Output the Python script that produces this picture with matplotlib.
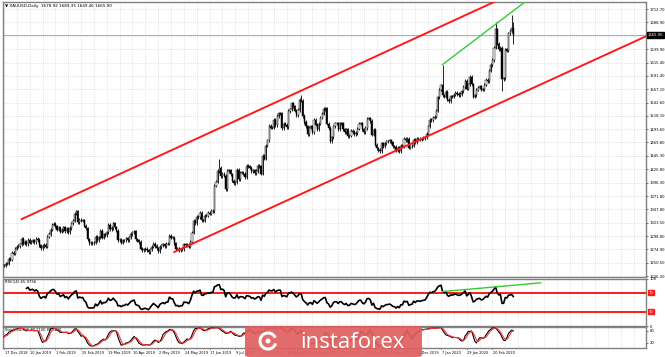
import numpy as np
import pandas as pd
import matplotlib
matplotlib.use("Agg")
import matplotlib.pyplot as plt
from matplotlib.patches import FancyBboxPatch, Ellipse, Arc

# ---------------- data ----------------
holidays = ["2018-12-25", "2019-01-01", "2019-12-25", "2020-01-01"]

# daily closes XAUUSD, 17 Dec 2018 .. 10 Mar 2020
closes = [
    # Dec 2018
    1245, 1249, 1249, 1258, 1256, 1268, 1267, 1276, 1280, 1281,
    # Jan 2019
    1284, 1294, 1285, 1289, 1284, 1292, 1287, 1289, 1291, 1288, 1294,
    1292, 1282, 1277, 1281, 1283, 1280, 1298, 1303, 1311, 1320, 1321,
    # Feb 2019
    1317, 1311, 1314, 1307, 1310, 1315, 1308, 1312, 1306, 1314,
    1322, 1327, 1340, 1344, 1324, 1329, 1327, 1328, 1318, 1313,
    # Mar 2019
    1293, 1286, 1287, 1286, 1287, 1298, 1291, 1297, 1309, 1296, 1302,
    1301, 1306, 1320, 1312, 1314, 1322, 1315, 1309, 1291, 1292,
    # Apr 2019
    1287, 1291, 1291, 1295, 1292, 1297, 1303, 1306, 1308, 1293, 1291,
    1288, 1276, 1273, 1275, 1276, 1273, 1270, 1275, 1280, 1285, 1281,
    # May 2019
    1277, 1271, 1279, 1282, 1284, 1281, 1285, 1285, 1300, 1296, 1296, 1286,
    1276, 1277, 1273, 1275, 1275, 1284, 1283, 1283, 1280, 1288, 1305,
    # Jun 2019
    1327, 1323, 1334, 1334, 1341, 1328, 1327, 1336, 1336, 1341,
    1340, 1345, 1345, 1391, 1398, 1418, 1423, 1408, 1413, 1409,
    # Jul 2019
    1385, 1418, 1419, 1412, 1400, 1395, 1397, 1420, 1403, 1415, 1415, 1413,
    1406, 1427, 1426, 1424, 1417, 1419, 1414, 1418, 1427, 1426, 1413,
    # Aug 2019
    1445, 1440, 1464, 1474, 1500, 1497, 1497, 1511, 1501, 1518, 1523,
    1523, 1496, 1504, 1502, 1498, 1527, 1530, 1541, 1536, 1528, 1520,
    # Sep 2019
    1529, 1547, 1546, 1518, 1507, 1499, 1485, 1497, 1499, 1488, 1511,
    1502, 1494, 1504, 1515, 1522, 1531, 1532, 1504, 1496, 1472,
    # Oct 2019
    1479, 1499, 1505, 1505, 1494, 1505, 1505, 1494, 1488, 1494, 1481, 1482,
    1491, 1489, 1485, 1487, 1495, 1504, 1505, 1494, 1489, 1496, 1513,
    # Nov 2019
    1514, 1509, 1484, 1493, 1466, 1459, 1456, 1454, 1468, 1463, 1468,
    1472, 1472, 1474, 1470, 1463, 1462, 1455, 1460, 1454, 1464,
    # Dec 2019
    1463, 1477, 1474, 1476, 1460, 1463, 1464, 1475, 1470, 1476, 1476,
    1475, 1477, 1478, 1479, 1486, 1499, 1511, 1510, 1515, 1517,
    # Jan 2020
    1528, 1552, 1566, 1574, 1556, 1553, 1562, 1548, 1545, 1554, 1553,
    1557, 1560, 1558, 1556, 1558, 1563, 1571, 1582, 1568, 1576, 1589,
    # Feb 2020
    1576, 1553, 1556, 1566, 1570, 1572, 1566, 1567, 1575, 1584,
    1581, 1601, 1611, 1620, 1643, 1676, 1650, 1640, 1643, 1585,
    # Mar 2020
    1587, 1640, 1637, 1669, 1673, 1679, 1665.9,
]
spike_high = {"2019-06-25": 1439, "2019-09-04": 1557, "2020-01-08": 1611,
              "2020-02-24": 1689, "2020-03-09": 1703, "2020-03-10": 1689.35}
spike_low = {"2020-02-28": 1563, "2020-03-10": 1649.46}

price_ticks = [1226.20, 1250.50, 1274.90, 1298.80, 1323.50, 1347.80, 1371.80,
               1396.30, 1420.80, 1445.30, 1469.80, 1493.60, 1518.10, 1542.60,
               1567.10, 1591.40, 1615.40, 1639.90, 1688.90, 1712.70]
hidden_grid = [1664.30]  # level covered by the current-price box

# trend lines (bar index, price)
upper_channel = ([11, 308], [1330, 1730])
lower_channel = ([106, 400], [1270, 1664])
green_price = ([273, 326], [1612, 1730])
rsi_levels = [70, 30]

title = "\u25bc XAUUSD,Daily  1678.92 1689.35 1649.46 1665.90"
rsi_title = "RSI(14) 65.9756"
stoch_title = "Stoch(14,3,3) 80.1100 80.3246"

# ---------------- prepare ----------------
dates = pd.bdate_range("2018-12-17", "2020-03-10")
dates = dates[~dates.isin(pd.to_datetime(holidays))]
n = min(len(dates), len(closes))
dates = dates[:n]
c = np.array(closes[:n], dtype=float)
o = np.r_[c[0], c[:-1]]
wick = 3.0
hi = np.maximum(o, c) + wick
lo = np.minimum(o, c) - wick
for d, v in spike_high.items():
    hi[dates.get_loc(pd.Timestamp(d))] = v
for d, v in spike_low.items():
    lo[dates.get_loc(pd.Timestamp(d))] = v
x = np.arange(n)

s = pd.Series(c)
diff = s.diff()
gain = diff.clip(lower=0).ewm(alpha=1 / 14, adjust=False, min_periods=14).mean()
loss = (-diff.clip(upper=0)).ewm(alpha=1 / 14, adjust=False, min_periods=14).mean()
rsi = 100 - 100 / (1 + gain / loss)

ll = pd.Series(lo).rolling(14, min_periods=1).min()
hh = pd.Series(hi).rolling(14, min_periods=1).max()
k = (100 * (s - ll) / (hh - ll)).rolling(3, min_periods=1).mean()
dd = k.rolling(3, min_periods=1).mean()

# ---------------- figure ----------------
W, H = 665, 357
fig = plt.figure(figsize=(W / 100, H / 100), dpi=100)


def px_axes(x0, y0, x1, y1):
    return fig.add_axes([x0 / W, 1 - y1 / H, (x1 - x0) / W, (y1 - y0) / H])


ax = px_axes(3, 2, 646, 277)
ax_rsi = px_axes(3, 278.5, 646, 326)
ax_st = px_axes(3, 327, 646, 348)

XMIN, XMAX = -0.6, 399.6
grid_kw = dict(color="#c8c8c8", lw=0.5, ls=(0, (1, 2)), zorder=0)
for a in (ax, ax_rsi, ax_st):
    a.set_xlim(XMIN, XMAX)
    for gx in range(0, 400, 8):
        a.axvline(gx, **grid_kw)
    for sp in a.spines.values():
        sp.set_color("#808080")
        sp.set_linewidth(1.0)
    a.yaxis.tick_right()
    a.tick_params(axis="y", labelsize=2.7, length=1.5, width=0.4, pad=1, colors="black")
    a.tick_params(axis="x", length=0, labelbottom=False)

# main price panel
YLO, YHI = 1224.4, 1726
ax.set_ylim(YLO, YHI)
ax.set_yticks(price_ticks)
ax.set_yticklabels([f"{p:.2f}" for p in price_ticks])
for p in price_ticks + hidden_grid:
    ax.axhline(p, **grid_kw)
ax.vlines(x, lo, hi, color="black", lw=0.6, zorder=3)
up = c >= o
ax.bar(x, np.maximum(np.abs(c - o), 0.5), bottom=np.minimum(o, c), width=0.7,
       color=np.where(up, "white", "black"), edgecolor="black", lw=0.35, zorder=4)
ax.axhline(c[-1], color="#a0a0a0", lw=0.6, zorder=2)

ax.plot(*upper_channel, color="#ff1a1a", lw=1.4, zorder=5)
ax.plot(*lower_channel, color="#ff1a1a", lw=1.4, zorder=5)
ax.plot(*green_price, color="#33cc33", lw=1.0, zorder=5)

ax.text(0.003, 0.993, title, transform=ax.transAxes, va="top", ha="left", fontsize=3.0)
ax.text(1.003, (c[-1] - YLO) / (YHI - YLO), f"{c[-1]:.2f}", transform=ax.transAxes,
        va="center", ha="left", fontsize=2.7, color="white",
        bbox=dict(boxstyle="square,pad=0.2", fc="black", ec="black"), clip_on=False, zorder=10)

# RSI panel
ax_rsi.set_ylim(0, 100)
ax_rsi.set_yticks([100, 0])
ax_rsi.set_yticklabels(["100", "0"])
ax_rsi.plot(x, rsi, color="black", lw=1.2, zorder=4)
for lvl in rsi_levels:
    ax_rsi.axhline(lvl, color="#ff1a1a", lw=1.4, zorder=3)
    ax_rsi.text(1.004, lvl / 100, str(lvl), transform=ax_rsi.transAxes, va="center", ha="left",
                fontsize=2.6, color="white", clip_on=False,
                bbox=dict(boxstyle="square,pad=0.2", fc="#ff1a1a", ec="#ff1a1a"))
i1 = dates.get_loc(pd.Timestamp("2020-01-08"))
i2 = dates.get_loc(pd.Timestamp("2020-02-24"))
slope = (rsi[i2] - rsi[i1]) / (i2 - i1)
gxs = np.array([i1, 334])
ax_rsi.plot(gxs, rsi[i1] + slope * (gxs - i1), color="#33cc33", lw=1.0, zorder=5)
ax_rsi.text(0.003, 0.96, rsi_title, transform=ax_rsi.transAxes, va="top", ha="left", fontsize=2.8)

# Stochastic panel
ax_st.set_ylim(-5, 100)
ax_st.set_yticks([80, 20])
ax_st.set_yticklabels(["80", "20"])
ax_st.plot(x, k, color="black", lw=0.8, zorder=4)
ax_st.plot(x, dd, color="#ff3333", lw=0.8, zorder=4)
ax_st.text(0.003, 0.97, stoch_title, transform=ax_st.transAxes, va="top", ha="left", fontsize=2.6)

# date labels under the bottom panel
xt = ax_st.get_xaxis_transform()
for i in range(0, n, 16):
    lbl = f"{dates[i].day} {dates[i].strftime('%b %Y')}"
    ax_st.text(i + 0.5, -0.15, lbl, transform=xt, ha="left", va="top",
               fontsize=2.5, clip_on=False)
    ax_st.plot([i, i], [-0.06, 0], transform=xt, color="black", lw=0.4, clip_on=False)

# watermark
wm = FancyBboxPatch((245 / W, 0), 177 / W, 31 / H, boxstyle="round,pad=0,rounding_size=0.006",
                    transform=fig.transFigure, fc="#e06060", ec="none", alpha=0.92, zorder=20)
fig.patches.append(wm)
cx, cy = 268 / W, 16 / H
fig.patches.append(Arc((cx, cy), 16 / W, 16 / H, theta1=40, theta2=330, transform=fig.transFigure,
                       color="white", lw=2.2, zorder=21))
fig.patches.append(Ellipse((cx, cy), 5 / W, 5 / H, transform=fig.transFigure,
                           fc="white", ec="none", zorder=21))
fig.text(352 / W, 15 / H, "instaforex", color="white", fontsize=16, family="Open Sans",
         ha="center", va="center", zorder=21)

fig.savefig("out.png", dpi=100)
